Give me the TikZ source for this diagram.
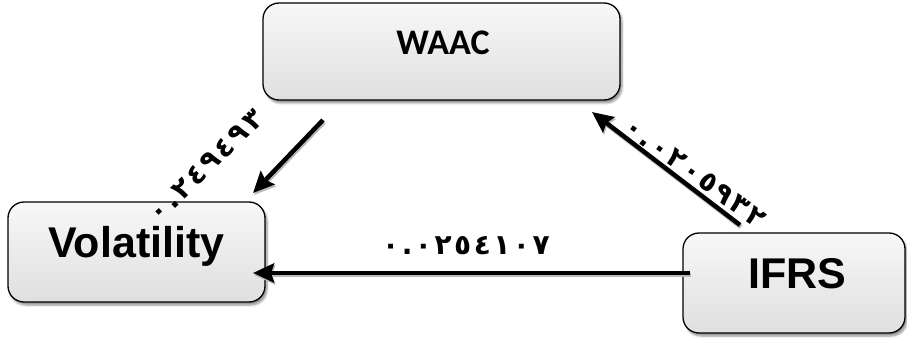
\documentclass[tikz,border=0pt]{standalone}
\usepackage{fontspec}
\setmainfont{Liberation Sans}
\newfontfamily\calfont{Carlito}
\newfontfamily\digitfont[LetterSpace=9]{DejaVu Sans}
\usetikzlibrary{arrows.meta,shadows.blur}

\begin{document}
\begin{tikzpicture}[x=1pt,y=-1pt,
  box/.style={draw=black,line width=1.3pt,rounded corners=16pt,inner sep=0pt,
    top color=gray!6,bottom color=gray!25,
    blur shadow={shadow xshift=2pt,shadow yshift=-3pt,shadow blur steps=6,shadow opacity=45}},
  bigtext/.style={font=\fontsize{43}{43}\selectfont\bfseries,anchor=base,inner sep=0pt},
  midtext/.style={font=\calfont\fontsize{36}{36}\selectfont\bfseries,anchor=base,inner sep=0pt},
  coef/.style={font=\digitfont\fontsize{28}{28}\selectfont\bfseries,inner sep=0pt},
  conn/.style={line width=4.5pt,-{Stealth[length=21pt,width=19pt,inset=3pt]}},
  connshade/.style={conn,draw=gray!55,fill=gray!55,transform canvas={xshift=1pt,yshift=-2pt}}
]
\useasboundingbox (0,0) rectangle (907,339);

% boxes
\node[box,minimum width=357pt,minimum height=97pt] (waac) at (441.5,51.5) {};
\node[box,minimum width=257pt,minimum height=100pt] (vol) at (136.5,252) {};
\node[box,minimum width=222pt,minimum height=100pt] (ifrs) at (794,283) {};

% box captions
\node[midtext] (waact) at (443,55) {WAAC};
\node[bigtext] (volt) at (136.5,257) {Volatility};
\node[bigtext] (ifrst) at (797.5,288) {IFRS};

% arrow end points
\coordinate (w1) at (323,120);
\coordinate (w2) at (253,193);
\coordinate (i1) at (740,225);
\coordinate (i2) at (592,112);
\coordinate (h1) at (690,273);
\coordinate (h2) at (253,273);

% connectors
\draw[connshade] (w1) -- (w2);
\draw[connshade] (i1) -- (i2);
\draw[connshade] (h1) -- (h2);
\draw[conn] (w1) -- (w2);
\draw[conn] (i1) -- (i2);
\draw[conn] (h1) -- (h2);

% coefficients
\node[coef] (ch) at (466,246) {٠.٠٢٥٤١٠٧};
\node[coef,rotate=44] (cw) at (206,166) {٠.٢٤٩٤٩٣};
\node[coef,rotate=-36] (ci) at (695,173) {٠.٠٢٠٥٩٣٢};
\end{tikzpicture}
\end{document}
